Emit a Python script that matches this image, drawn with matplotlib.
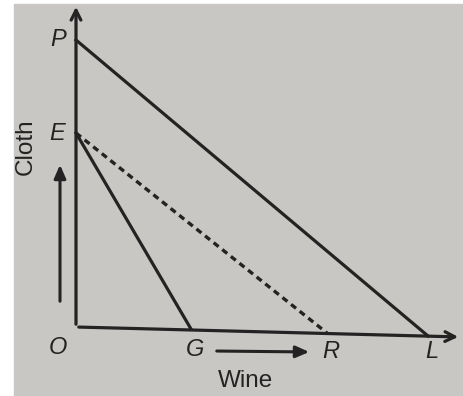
import matplotlib
matplotlib.use("Agg")
import matplotlib.pyplot as plt

# Diagram points (page coordinates, y grows downward)
origin = (76, 327)
p_point = (76, 40)
e_point = (76, 133)
g_point = (191, 329)
r_point = (327, 333)
l_point = (428, 336)
y_axis_top = (76, 4)
x_axis_end = (461, 337)

point_labels = ["P", "E", "O", "G", "R", "L"]
label_pos = [(58, 40), (57, 134), (58, 348), (195, 350), (331, 351), (432, 352)]

ink = "#232323"
paper = "#c9c7c4"

fig = plt.figure(figsize=(4.64, 3.96), dpi=100)
fig.patch.set_facecolor("white")
ax = fig.add_axes([0, 0, 1, 1])
ax.set_xlim(0, 464)
ax.set_ylim(396, 0)
ax.axis("off")

# page background (thin white strip at left and top)
ax.add_patch(plt.Rectangle((14, 4), 450, 392, color=paper, zorder=0))

lw = 2.3
# axes
ax.annotate("", xy=y_axis_top, xytext=origin,
            arrowprops=dict(arrowstyle="->,head_length=0.7,head_width=0.35", color=ink, lw=lw))
ax.annotate("", xy=x_axis_end, xytext=origin,
            arrowprops=dict(arrowstyle="->,head_length=0.7,head_width=0.35", color=ink, lw=lw))

# budget / trade lines
ax.plot([p_point[0], l_point[0]], [p_point[1], l_point[1]], color=ink, lw=lw)
ax.plot([e_point[0], g_point[0]], [e_point[1], g_point[1]], color=ink, lw=lw)
ax.plot([e_point[0], r_point[0]], [e_point[1], r_point[1]], color=ink, lw=2.4,
        linestyle=(0, (1.9, 1.4)))

for txt, (x, y) in zip(point_labels, label_pos):
    ax.text(x, y, txt, fontsize=17, style="italic", family="Liberation Sans",
            ha="center", va="center", color=ink)

# direction arrows
ax.annotate("", xy=(60, 162), xytext=(60, 304),
            arrowprops=dict(arrowstyle="-|>,head_length=0.8,head_width=0.35", color=ink, lw=2.2))
ax.annotate("", xy=(312, 352), xytext=(214, 351),
            arrowprops=dict(arrowstyle="-|>,head_length=0.8,head_width=0.35", color=ink, lw=2.2))

ax.text(246, 381, "Wine", fontsize=17.5, family="Liberation Sans", ha="center", va="center", color=ink)
ax.text(26, 147, "Cloth", fontsize=17.5, family="Liberation Sans", rotation=90,
        ha="center", va="center", color=ink)

fig.savefig("out.png", dpi=100, facecolor=fig.get_facecolor())
